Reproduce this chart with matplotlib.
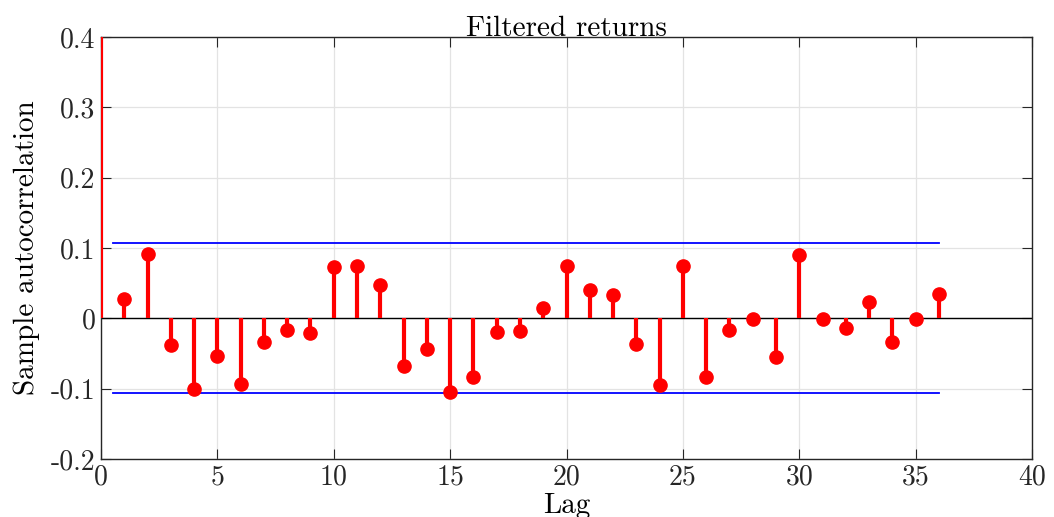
import matplotlib
matplotlib.use('Agg')
import matplotlib.pyplot as plt
import numpy as np

# sample autocorrelation of filtered returns, lags 0..36
lags = list(range(0, 37))
acf = [1.0, 0.027, 0.092, -0.038, -0.101, -0.053, -0.094, -0.033, -0.017, -0.021,
       0.073, 0.074, 0.047, -0.068, -0.044, -0.105, -0.084, -0.020, -0.018, 0.014,
       0.074, 0.040, 0.033, -0.037, -0.095, 0.075, -0.083, -0.016, -0.001, -0.055,
       0.090, -0.001, -0.014, 0.023, -0.033, -0.001, 0.034]
bound = 0.1065
xticks = [0, 5, 10, 15, 20, 25, 30, 35, 40]
yticks = [-0.2, -0.1, 0, 0.1, 0.2, 0.3, 0.4]
ytick_labels = ['-0.2', '-0.1', '0', '0.1', '0.2', '0.3', '0.4']

plt.rcParams['font.family'] = 'serif'
plt.rcParams['font.serif'] = ['cmr10']
plt.rcParams['mathtext.fontset'] = 'cm'
plt.rcParams['axes.unicode_minus'] = False
plt.rcParams['axes.formatter.use_mathtext'] = False

fig = plt.figure(figsize=(10.54, 5.17), dpi=100)
ax = fig.add_axes([101/1054, 1 - 459/517, (1032-101)/1054, (459-37)/517])

ax.axhline(0, color='black', lw=1, zorder=2)
markerline, stemlines, baseline = ax.stem(lags, acf, linefmt='r-', markerfmt='ro', basefmt=' ')
plt.setp(stemlines, linewidth=3, zorder=3)
plt.setp(markerline, markersize=9.5, zorder=4)

ax.plot([0.5, 36], [bound, bound], color='#0000ff', lw=1.3, zorder=2)
ax.plot([0.5, 36], [-bound, -bound], color='#0000ff', lw=1.3, zorder=2)

ax.set_xlim(0, 40)
ax.set_ylim(-0.2, 0.4)
ax.set_xticks(xticks)
ax.set_yticks(yticks)
ax.set_yticklabels(ytick_labels)
ax.grid(True, color='#e3e3e3', lw=0.9, zorder=0)
ax.set_axisbelow(True)
ax.tick_params(direction='in', top=True, right=True, length=7, labelsize=20,
               colors='#262626', pad=4)
for s in ax.spines.values():
    s.set_color('#262626')
    s.set_linewidth(1)

ax.set_title('Filtered returns', fontsize=21, pad=1)
ax.set_xlabel('Lag', fontsize=21, labelpad=1)
ax.set_ylabel('Sample autocorrelation', fontsize=21, labelpad=8)

fig.savefig('out.png', dpi=100)
